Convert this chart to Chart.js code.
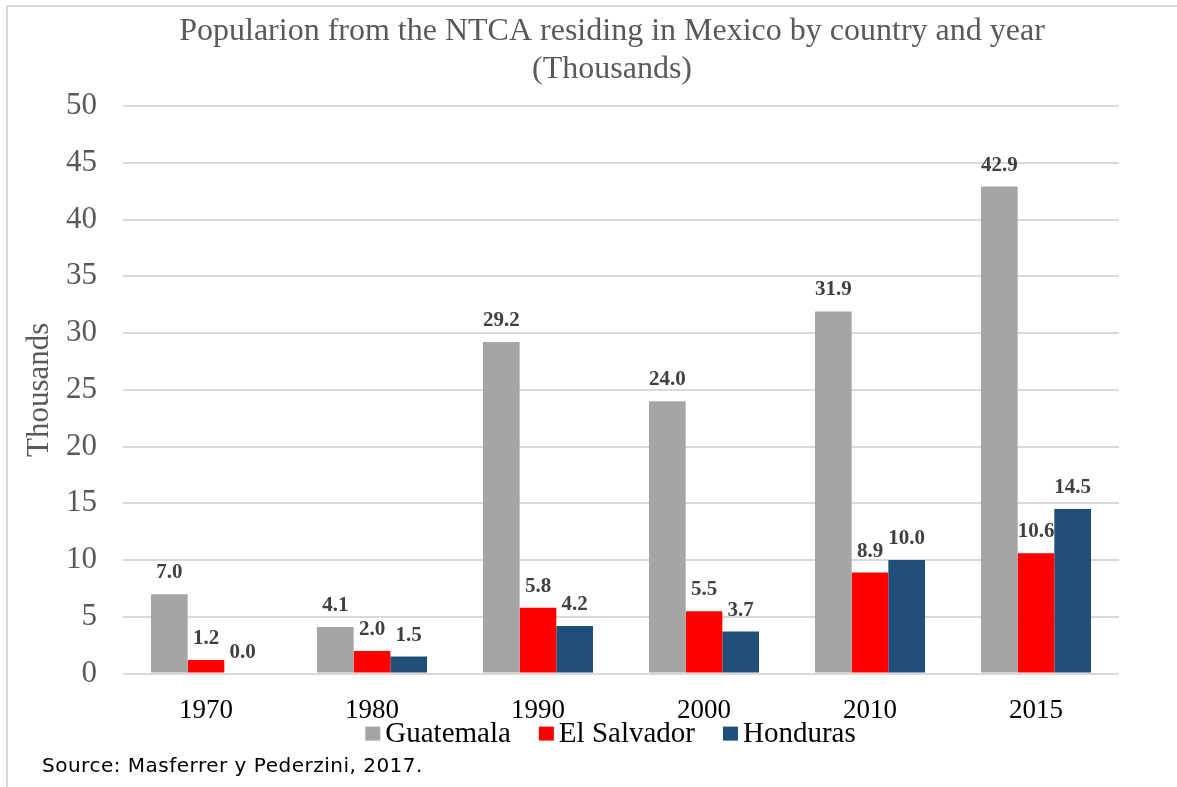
<!DOCTYPE html>
<html>
<head>
<meta charset="utf-8">
<script src="https://cdn.jsdelivr.net/npm/chart.js@4.4.1/dist/chart.umd.min.js"></script>
<style>
  html, body { margin: 0; padding: 0; background: #ffffff; }
  #wrap { position: relative; width: 1177px; height: 787px; }
  #source {
    position: absolute; left: 42px; top: 753px;
    font-family: 'DejaVu Sans', sans-serif; font-size: 20px; letter-spacing: 0.5px; color: #000;
  }
</style>
</head>
<body>
<div id="wrap">
  <canvas id="chartNTCA" width="1177" height="787"></canvas>
  <div id="source">Source: Masferrer y Pederzini, 2017.</div>
</div>
<script>
// du lieu
const years = ['1970', '1980', '1990', '2000', '2010', '2015'];
const guatemala = [7.0, 4.1, 29.2, 24.0, 31.9, 42.9];
const elSalvador = [1.2, 2.0, 5.8, 5.5, 8.9, 10.6];
const honduras = [0.0, 1.5, 4.2, 3.7, 10.0, 14.5];
const yTicks = [0, 5, 10, 15, 20, 25, 30, 35, 40, 45, 50];
const titleLines = ['Popularion from the NTCA residing in Mexico by country and year', '(Thousands)'];

const serif = "'Liberation Serif', 'Times New Roman', serif";
Chart.defaults.font.family = serif;

// khung + tieu de
const framePlugin = {
    id: 'frame',
    beforeDraw(chart) {
        const ctx = chart.ctx;
        ctx.save();
        ctx.strokeStyle = '#D9D9D9';
        ctx.lineWidth = 2;
        ctx.beginPath();
        ctx.moveTo(7, 787);
        ctx.lineTo(7, 6);
        ctx.lineTo(1177, 6);
        ctx.stroke();
        ctx.fillStyle = '#595959';
        ctx.font = '32px ' + serif;
        ctx.textAlign = 'center';
        ctx.textBaseline = 'middle';
        ctx.fillText(titleLines[0], 612, 32);
        ctx.fillText(titleLines[1], 612, 70);
        ctx.restore();
    }
};

// nhan gia tri tren cot
const valueLabels = {
    id: 'valueLabels',
    afterDatasetsDraw(chart) {
        const ctx = chart.ctx;
        ctx.save();
        ctx.fillStyle = '#404040';
        ctx.font = 'bold 21px ' + serif;
        ctx.textAlign = 'center';
        ctx.textBaseline = 'alphabetic';
        chart.data.datasets.forEach(function(ds, i) {
            chart.getDatasetMeta(i).data.forEach(function(bar, j) {
                ctx.fillText(ds.data[j].toFixed(1), bar.x, bar.y - 16);
            });
        });
        ctx.restore();
    }
};

// chu thich ve tay (khoang cach giong Excel)
const legendPlugin = {
    id: 'excelLegend',
    afterDraw(chart) {
        const ctx = chart.ctx;
        const y = chart.chartArea.bottom + 60;
        const boxW = 15, boxH = 14, gapText = 5, gapItem = 28;
        ctx.save();
        ctx.font = '29px ' + serif;
        ctx.textBaseline = 'middle';
        ctx.textAlign = 'left';
        const items = chart.data.datasets.map(ds => ({ text: ds.label, color: ds.backgroundColor, w: ctx.measureText(ds.label).width }));
        let total = 0;
        items.forEach((it, k) => { total += boxW + gapText + it.w + (k < items.length - 1 ? gapItem : 0); });
        let x = 610.5 - total / 2;
        items.forEach(function(it) {
            ctx.fillStyle = it.color;
            ctx.fillRect(x, y - 7, boxW, boxH);
            ctx.fillStyle = '#000000';
            ctx.fillText(it.text, x + boxW + gapText, y + 1);
            x += boxW + gapText + it.w + gapItem;
        });
        ctx.restore();
    }
};

new Chart(document.getElementById('chartNTCA'), {
    type: 'bar',
    data: {
        labels: years,
        datasets: [
            { label: 'Guatemala', data: guatemala, backgroundColor: '#A5A5A5' },
            { label: 'El Salvador', data: elSalvador, backgroundColor: '#FF0000' },
            { label: 'Honduras', data: honduras, backgroundColor: '#1F4E79' }
        ]
    },
    options: {
        responsive: false,
        animation: false,
        categoryPercentage: 0.663,
        barPercentage: 1.0,
        layout: { padding: { top: 106, bottom: 47, left: 21, right: 58 } },
        scales: {
            x: {
                grid: { display: false },
                border: { display: false },
                ticks: { color: '#000000', font: { family: serif, size: 27 }, padding: 13 }
            },
            y: {
                min: 0, max: 50,
                afterBuildTicks(scale) { scale.ticks = yTicks.map(v => ({ value: v })); },
                afterFit(scale) { scale.width = 102; },
                grid: { color: '#D9D9D9', lineWidth: 2, drawTicks: false },
                border: { display: false },
                ticks: { color: '#595959', font: { family: serif, size: 31 }, padding: 26 },
                title: { display: true, text: 'Thousands', color: '#595959', font: { family: serif, size: 31 }, padding: { top: 0, bottom: 7 } }
            }
        },
        plugins: {
            title: { display: false },
            tooltip: { enabled: false },
            legend: { display: false }
        }
    },
    plugins: [framePlugin, valueLabels, legendPlugin]
});
</script>
</body>
</html>
